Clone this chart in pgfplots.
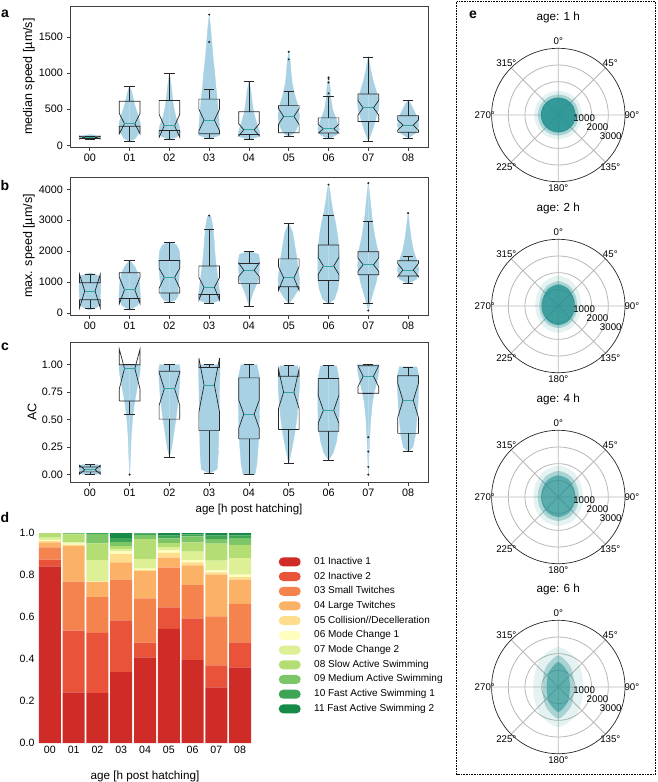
\documentclass[border=0pt]{standalone}
\usepackage{fontspec}
\setmainfont{Liberation Sans}
\usepackage{pgfplots}
\usepackage{pgfplotstable}
\pgfplotsset{compat=1.18}
\usepgfplotslibrary{polar}

\definecolor{vio}{RGB}{168,209,228}
\definecolor{medc}{RGB}{48,168,160}
\definecolor{tealc}{RGB}{36,145,145}
\definecolor{c01}{RGB}{207,43,39}
\definecolor{c02}{RGB}{233,83,57}
\definecolor{c03}{RGB}{244,131,78}
\definecolor{c04}{RGB}{252,178,102}
\definecolor{c05}{RGB}{254,222,140}
\definecolor{c06}{RGB}{255,254,190}
\definecolor{c07}{RGB}{222,240,150}
\definecolor{c08}{RGB}{180,222,115}
\definecolor{c09}{RGB}{124,198,104}
\definecolor{c10}{RGB}{61,165,85}
\definecolor{c11}{RGB}{24,138,72}

\newcommand{\fs}[1]{\fontsize{#1}{#1}\selectfont}

% violin half-width profiles: y_i, w_i for category i
\pgfplotstableread{
y0 w0 y1 w1 y2 w2 y3 w3 y4 w4 y5 w5 y6 w6 y7 w7 y8 w8
80 0 50 0 80 0 90 0 80 0 120 0 90 0 60 0 100 0
90 0.15 100 0.15 120 0.2 140 0.27 120 0.24 180 0.15 150 0.22 200 0.1 180 0.22
100 0.24 200 0.26 180 0.27 250 0.26 180 0.27 280 0.24 220 0.27 350 0.18 280 0.27
110 0.27 300 0.27 260 0.25 400 0.24 300 0.2 400 0.27 350 0.2 500 0.26 380 0.24
120 0.27 400 0.22 400 0.16 600 0.21 450 0.12 550 0.23 500 0.1 600 0.27 480 0.15
130 0.24 500 0.16 550 0.1 800 0.17 600 0.08 700 0.15 650 0.06 750 0.2 560 0.08
140 0.15 600 0.11 700 0.07 1000 0.14 750 0.05 850 0.09 800 0.04 900 0.12 625 0
150 0 700 0.07 850 0.04 1200 0.1 890 0 1000 0.06 950 0 1050 0.06 625 0
150 0 760 0.04 1000 0 1400 0.07 890 0 1150 0.04 950 0 1150 0.03 625 0
150 0 820 0 1000 0 1600 0.04 890 0 1300 0 950 0 1230 0 625 0
150 0 820 0 1000 0 1810 0 890 0 1300 0 950 0 1230 0 625 0
}\vioA

\pgfplotstableread{
y0 w0 y1 w1 y2 w2 y3 w3 y4 w4 y5 w5 y6 w6 y7 w7 y8 w8
100 0 100 0 350 0 300 0 200 0 300 0 300 0 80 0 950 0
200 0.2 250 0.2 420 0.15 400 0.24 400 0.04 500 0.12 450 0.15 300 0.04 1100 0.22
400 0.26 500 0.27 550 0.22 600 0.27 650 0.1 800 0.26 800 0.24 650 0.12 1400 0.27
700 0.27 800 0.26 800 0.22 900 0.24 900 0.18 1100 0.27 1200 0.27 1000 0.2 1700 0.22
1000 0.27 1100 0.24 1100 0.24 1200 0.21 1100 0.24 1400 0.24 1800 0.27 1500 0.27 2000 0.14
1200 0.24 1300 0.2 1400 0.26 1600 0.17 1400 0.26 1800 0.2 2400 0.24 2000 0.24 2400 0.08
1300 0 1500 0.13 1700 0.27 2000 0.14 1700 0.27 2200 0.15 2900 0.18 2500 0.16 2800 0.04
1300 0 1700 0 2000 0.25 2400 0.12 1900 0.24 2600 0.1 3300 0.11 3000 0.1 3230 0
1300 0 1700 0 2200 0.18 2800 0.09 2000 0 2900 0 3700 0.06 3500 0.06 3230 0
1300 0 1700 0 2300 0 3100 0.05 2000 0 2900 0 4000 0.03 3900 0.03 3230 0
1300 0 1700 0 2300 0 3150 0 2000 0 2900 0 4150 0 4200 0 3230 0
}\vioB

\pgfplotstableread{
y0 w0 y1 w1 y2 w2 y3 w3 y4 w4 y5 w5 y6 w6 y7 w7 y8 w8
0 0 0 0 0.16 0 0.01 0 0 0 0.1 0 0.13 0 0 0 0.21 0
0.005 0.2 0.15 0.02 0.25 0.06 0.05 0.2 0 0.15 0.2 0.06 0.2 0.12 0.1 0.01 0.25 0.12
0.02 0.26 0.35 0.04 0.4 0.12 0.2 0.23 0.1 0.2 0.35 0.14 0.3 0.2 0.3 0.03 0.35 0.18
0.05 0.27 0.5 0.07 0.55 0.18 0.4 0.24 0.3 0.24 0.5 0.2 0.45 0.26 0.5 0.06 0.5 0.22
0.08 0.26 0.65 0.12 0.7 0.23 0.6 0.25 0.5 0.26 0.65 0.24 0.6 0.27 0.65 0.1 0.65 0.25
0.09 0.2 0.75 0.17 0.85 0.26 0.8 0.26 0.7 0.27 0.8 0.27 0.75 0.27 0.75 0.15 0.8 0.27
0.095 0 0.85 0.22 0.95 0.27 0.95 0.27 0.9 0.26 0.9 0.27 0.9 0.25 0.85 0.22 0.9 0.27
0.095 0 0.93 0.26 1.0 0.25 1.0 0.27 1.0 0.2 0.99 0.22 0.99 0.2 0.95 0.27 0.98 0.22
0.095 0 1.0 0.27 1.0 0 1.0 0 1.0 0 0.99 0 0.99 0 1.0 0.27 0.98 0
0.095 0 1.0 0 1.0 0 1.0 0 1.0 0 0.99 0 0.99 0 1.0 0 0.98 0
0.095 0 1.0 0 1.0 0 1.0 0 1.0 0 0.99 0 0.99 0 1.0 0 0.98 0
}\vioC

% behaviour fractions per age
\pgfplotstableread{
x s1 s2 s3 s4 s5 s6 s7 s8 s9 s10 s11
0 0.841 0.032 0.059 0.024 0.005 0.005 0.012 0.022 0 0 0
1 0.241 0.294 0.233 0.169 0.008 0.005 0.006 0.038 0.006 0 0
2 0.237 0.287 0.171 0.072 0.002 0.002 0.100 0.080 0.044 0.005 0
3 0.338 0.246 0.194 0.082 0.040 0.013 0.011 0.013 0.020 0.019 0.024
4 0.408 0.070 0.211 0.130 0.006 0.005 0.046 0.095 0.019 0.007 0.003
5 0.543 0.103 0.189 0.048 0.022 0.012 0.016 0.019 0.023 0.012 0.013
6 0.395 0.199 0.158 0.094 0.014 0.011 0.040 0.045 0.028 0.010 0.006
7 0.265 0.105 0.233 0.199 0.011 0.009 0.046 0.081 0.022 0.016 0.013
8 0.360 0.119 0.184 0.115 0.012 0.012 0.079 0.063 0.032 0.013 0.011
}\dtab

% polar density outlines (angle, radius) per age: core c, mid m, halo h
\pgfplotstableread{
a c1 m1 h1 c2 m2 h2 c4 m4 h4 c6 m6 h6
0 1050 1230 1450 990 1139 1386 1030 1236 1494 700 950 1500
30 1050 1230 1450 1047 1204 1466 1082 1298 1569 780 1054 1629
60 1050 1230 1450 1196 1375 1674 1213 1456 1759 1089 1436 2036
90 1050 1230 1450 1300 1495 1820 1300 1560 1885 1500 1900 2400
120 1050 1230 1450 1196 1375 1674 1213 1456 1759 1089 1436 2036
150 1050 1230 1450 1047 1204 1466 1082 1298 1569 780 1054 1629
180 1050 1230 1450 990 1139 1386 1030 1236 1494 700 950 1500
210 1050 1230 1450 1024 1177 1433 1066 1279 1546 780 1054 1629
240 1050 1230 1450 1103 1268 1544 1150 1380 1668 1089 1436 2036
270 1050 1230 1450 1150 1323 1610 1200 1440 1740 1500 1900 2400
300 1050 1230 1450 1103 1268 1544 1150 1380 1668 1089 1436 2036
330 1050 1230 1450 1024 1177 1433 1066 1279 1546 780 1054 1629
360 1050 1230 1450 990 1139 1386 1030 1236 1494 700 950 1500
}\blob

\pgfplotsset{
  vstyle/.style={width=358pt, scale only axis, xmin=-0.5, xmax=8.5,
    xtick={0,1,2,3,4,5,6,7,8}, xticklabels={00,01,02,03,04,05,06,07,08},
    tick pos=left, tick align=outside, major tick length=3.5pt,
    axis line style={black!75, line width=0.8pt},
    tick style={black!75, line width=0.8pt},
    tick label style={font=\fs{10.8}},
    label style={font=\fs{11.5}},
    /pgf/number format/assume math mode=true,
    /pgf/number format/1000 sep={},
    scaled y ticks=false,
    ylabel style={font=\fs{12.5}, at={(axis description cs:-0.1145,0.5)}, anchor=center}},
  boxline/.style={draw=black!85, line width=0.7pt},
  wline/.style={draw=black!85, line width=0.7pt},
  medline/.style={draw=medc, line width=0.9pt},
  vfill/.style={fill=vio, draw=vio, line width=0.3pt},
  flier/.style={only marks, mark=*, mark size=0.8pt, black!85},
  polstyle/.style={width=133.4pt, height=133.4pt, scale only axis,
    ymin=0, ymax=4000, xtick={0,45,90,135,180,225,270,315},
    ytick={1000,2000,3000}, xticklabels={}, yticklabels={},
    xmajorgrids, ymajorgrids,
    major grid style={draw=black!28, line width=0.8pt},
    axis line style={draw=none},
    major tick length=0pt, clip=false},
}

\newcommand{\nbox}[8]{%
  \pgfmathsetmacro\xa{#1-0.26}\pgfmathsetmacro\xb{#1+0.26}%
  \pgfmathsetmacro\xc{#1-0.13}\pgfmathsetmacro\xd{#1+0.13}%
  \edef\nboxtmp{%
    \noexpand\addplot[boxline] coordinates {(\xa,#2) (\xa,#3) (\xc,#4) (\xa,#5) (\xa,#6) (\xb,#6) (\xb,#5) (\xd,#4) (\xb,#3) (\xb,#2) (\xa,#2)};%
    \noexpand\addplot[wline] coordinates {(#1,#2) (#1,#7)};%
    \noexpand\addplot[wline] coordinates {(#1,#6) (#1,#8)};%
    \noexpand\addplot[wline] coordinates {(\xc,#7) (\xd,#7)};%
    \noexpand\addplot[wline] coordinates {(\xc,#8) (\xd,#8)};%
    \noexpand\addplot[medline] coordinates {(\xc,#4) (\xd,#4)};%
  }\nboxtmp}

\newcommand{\violins}[1]{%
  \pgfplotsinvokeforeach{0,...,8}{%
    \addplot[vfill] table[x expr=##1+\thisrow{w##1}, y=y##1]{#1};
    \addplot[vfill] table[x expr=##1-\thisrow{w##1}, y=y##1]{#1};
  }}

\newcommand{\polarlabels}{%
  \node[font=\fs{9.7}] at (axis cs:90,4410) {0°};
  \node[font=\fs{9.7}] at (axis cs:45,4410) {45°};
  \node[font=\fs{9.7}] at (axis cs:0,4410) {90°};
  \node[font=\fs{9.7}] at (axis cs:315,4410) {135°};
  \node[font=\fs{9.7}] at (axis cs:270,4410) {180°};
  \node[font=\fs{9.7}] at (axis cs:225,4410) {225°};
  \node[font=\fs{9.7}] at (axis cs:180,4410) {270°};
  \node[font=\fs{9.7}] at (axis cs:135,4410) {315°};
  \node[font=\fs{9.7}] at (axis cs:353,1560) {1000};
  \node[font=\fs{9.7}] at (axis cs:342.7,2463) {2000};
  \node[font=\fs{9.7}] at (axis cs:338.2,3390) {3000};
}

\newcommand{\polarpanel}[4]{%
  \node[font=\fs{11.7}] at (558.3pt,{-#1pt+98pt}) {#4};
  \begin{polaraxis}[polstyle, at={(558.3pt,-#1pt)}, anchor=center]
    \addplot[fill=tealc, draw=none, fill opacity=0.12, smooth] table[x=a,y=h#2]{\blob};
    \addplot[fill=tealc, draw=none, fill opacity=0.3, smooth] table[x=a,y=m#2]{\blob};
    \addplot[fill=tealc, draw=none, fill opacity=#3, smooth] table[x=a,y=c#2]{\blob};
    \polarlabels
  \end{polaraxis}
  \draw[black!85, line width=0.7pt] (558.3pt,-#1pt) circle[radius=66.7pt];}

\begin{document}
\begin{tikzpicture}
\useasboundingbox (0pt,0pt) rectangle (657pt,-782pt);

% ---------- a ----------
\begin{axis}[vstyle, height=141pt, at={(70pt,-6pt)}, anchor=north west,
  ymin=-23, ymax=1929, ytick={0,500,1000,1500}, ylabel={median speed [µm/s]}]
\violins{\vioA}
\nbox{0}{95}{88}{108}{128}{120}{88}{130}
\nbox{1}{265}{160}{300}{440}{610}{55}{815}
\nbox{2}{205}{110}{270}{430}{620}{85}{1000}
\nbox{3}{160}{200}{350}{500}{640}{90}{780}
\nbox{4}{150}{130}{215}{300}{465}{80}{890}
\nbox{5}{175}{290}{400}{510}{550}{120}{750}
\nbox{6}{170}{170}{230}{290}{380}{90}{680}
\nbox{7}{330}{420}{520}{620}{710}{60}{1225}
\nbox{8}{180}{210}{280}{350}{410}{100}{625}
\addplot[flier] coordinates {(3,1430) (3,1810) (5,1190) (5,1295) (6,720) (6,870) (6,920) (6,940)};
\end{axis}

% ---------- b ----------
\begin{axis}[vstyle, height=138pt, at={(70pt,-177pt)}, anchor=north west,
  ymin=-64, ymax=4397, ytick={0,1000,2000,3000,4000}, ylabel={max. speed [µm/s]}]
\violins{\vioB}
\nbox{0}{430}{170}{710}{1250}{980}{150}{1260}
\nbox{1}{470}{300}{750}{1150}{1300}{110}{1700}
\nbox{2}{650}{800}{1150}{1450}{1700}{360}{2300}
\nbox{3}{600}{420}{830}{1150}{1520}{300}{2700}
\nbox{4}{950}{1180}{1380}{1620}{1600}{200}{2000}
\nbox{5}{850}{730}{1140}{1500}{1750}{300}{2900}
\nbox{6}{1050}{1250}{1520}{1800}{2200}{300}{3170}
\nbox{7}{1240}{1350}{1560}{1780}{1980}{300}{2970}
\nbox{8}{1200}{1180}{1390}{1600}{1690}{950}{1840}
\addplot[flier] coordinates {(3,3150) (6,4150) (7,4200) (7,80) (8,3230)};
\end{axis}

% ---------- c ----------
\begin{axis}[vstyle, height=140pt, at={(70pt,-342pt)}, anchor=north west,
  ymin=-0.067, ymax=1.206, ytick={0,0.25,0.5,0.75,1},
  yticklabel style={/pgf/number format/.cd, fixed, fixed zerofill, precision=2},
  ylabel={AC}, ylabel style={at={(axis description cs:-0.106,0.5)}, anchor=center},
  xlabel={age [h post hatching]}, xlabel style={at={(axis description cs:0.5,-0.2)}, anchor=center}]
\violins{\vioC}
\nbox{0}{0.025}{0.005}{0.045}{0.085}{0.07}{0.005}{0.09}
\nbox{1}{0.67}{0.78}{0.965}{1.14}{1.0}{0.55}{1.0}
\nbox{2}{0.505}{0.63}{0.78}{0.93}{0.94}{0.16}{1.0}
\nbox{3}{0.40}{0.57}{0.815}{1.06}{0.975}{0.01}{1.0}
\nbox{4}{0.325}{0.42}{0.55}{0.68}{0.88}{0}{1.0}
\nbox{5}{0.41}{0.60}{0.75}{0.96}{0.895}{0.1}{0.99}
\nbox{6}{0.395}{0.47}{0.585}{0.72}{0.875}{0.13}{0.99}
\nbox{7}{0.74}{0.80}{0.895}{0.99}{0.99}{0.735}{1.0}
\nbox{8}{0.375}{0.52}{0.675}{0.83}{0.90}{0.21}{0.98}
\addplot[flier] coordinates {(1,0) (7,0.34) (7,0.21) (7,0.07) (7,0)};
\end{axis}

% ---------- d ----------
\begin{axis}[at={(38pt,-743pt)}, anchor=south west, width=214pt, height=210pt, scale only axis,
  ybar stacked, bar width=22pt, xmin=-0.5, xmax=8.5, ymin=0, ymax=1,
  xtick={0,1,2,3,4,5,6,7,8}, xticklabels={00,01,02,03,04,05,06,07,08},
  ytick={0,0.2,0.4,0.6,0.8,1.0},
  yticklabel style={/pgf/number format/.cd, fixed, fixed zerofill, precision=1},
  /pgf/number format/assume math mode=true,
  axis line style={draw=none}, major tick length=0pt, tick style={draw=none},
  tick label style={font=\fs{10.6}},
  xlabel={age [h post hatching]}, xlabel style={font=\fs{11.7}, at={(axis description cs:0.5,-0.157)}, anchor=center},
  legend style={at={(1.124,0.893)}, anchor=north west, draw=none, fill=none,
    font=\fs{10}, inner sep=0pt, row sep=2.3pt, column sep=12pt,
    nodes={inner sep=1.5pt, text height=7.2pt, text depth=2.2pt}},
  legend cell align=left,
  legend image code/.code={\fill[#1, rounded corners=4.5pt] (0pt,-4.5pt) rectangle (22pt,4.5pt);}]
\addplot[fill=c01, draw=none] table[x=x, y=s1]{\dtab}; \addlegendentry{01 Inactive 1}
\addplot[fill=c02, draw=none] table[x=x, y=s2]{\dtab}; \addlegendentry{02 Inactive 2}
\addplot[fill=c03, draw=none] table[x=x, y=s3]{\dtab}; \addlegendentry{03 Small Twitches}
\addplot[fill=c04, draw=none] table[x=x, y=s4]{\dtab}; \addlegendentry{04 Large Twitches}
\addplot[fill=c05, draw=none] table[x=x, y=s5]{\dtab}; \addlegendentry{05 Collision//Decelleration}
\addplot[fill=c06, draw=none] table[x=x, y=s6]{\dtab}; \addlegendentry{06 Mode Change 1}
\addplot[fill=c07, draw=none] table[x=x, y=s7]{\dtab}; \addlegendentry{07 Mode Change 2}
\addplot[fill=c08, draw=none] table[x=x, y=s8]{\dtab}; \addlegendentry{08 Slow Active Swimming}
\addplot[fill=c09, draw=none] table[x=x, y=s9]{\dtab}; \addlegendentry{09 Medium Active Swimming}
\addplot[fill=c10, draw=none] table[x=x, y=s10]{\dtab}; \addlegendentry{10 Fast Active Swimming 1}
\addplot[fill=c11, draw=none] table[x=x, y=s11]{\dtab}; \addlegendentry{11 Fast Active Swimming 2}
\end{axis}

% ---------- e ----------
\draw[black, line width=0.8pt, dash pattern=on 0.8pt off 0.8pt] (456.5pt,-1.5pt) rectangle (655.5pt,-774.5pt);
\polarpanel{115}{1}{0.88}{age: 1 h}
\polarpanel{306}{2}{0.8}{age: 2 h}
\polarpanel{497}{4}{0.6}{age: 4 h}
\polarpanel{687}{6}{0.55}{age: 6 h}

% panel letters
\node[font=\bfseries\fs{14}] at (5pt,-14pt) {a};
\node[font=\bfseries\fs{14}] at (5pt,-185pt) {b};
\node[font=\bfseries\fs{14}] at (5pt,-347pt) {c};
\node[font=\bfseries\fs{14}] at (5pt,-517pt) {d};
\node[font=\bfseries\fs{14}] at (473pt,-15pt) {e};
\end{tikzpicture}
\end{document}
